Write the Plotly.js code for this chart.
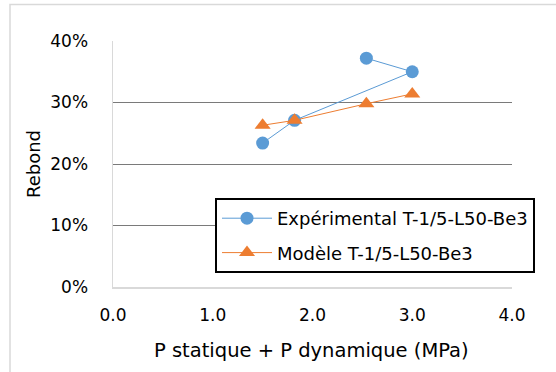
<!DOCTYPE html>
<html>
<head>
<meta charset="utf-8">
<script src="https://cdn.plot.ly/plotly-3.0.1.min.js"></script>
<style>
html,body{margin:0;padding:0;background:#fff;}
#chart{width:556px;height:372px;}
</style>
</head>
<body>
<div id="chart"></div>
<script>
// Data
const expX = [1.50, 1.82, 3.00, 2.54];
const expY = [0.234, 0.271, 0.350, 0.372];
const modX = [1.50, 1.82, 2.54, 3.00];
const modY = [0.263, 0.271, 0.298, 0.314];
const expName = "Expérimental T-1/5-L50-Be3";
const modName = "Modèle T-1/5-L50-Be3";
const xTitle = "P statique + P dynamique (MPa)";
const yTitle = "Rebond";

const FONT = "'DejaVu Sans', sans-serif";

const traces = [
  {
    x: expX, y: expY, name: expName, type: "scatter", mode: "lines+markers",
    line: {color: "#5B9BD5", width: 1},
    marker: {symbol: "circle", size: 13, color: "#5B9BD5"},
    legendgroup: "a"
  },
  {
    x: modX, y: modY, name: modName, type: "scatter", mode: "lines+markers",
    line: {color: "#ED7D31", width: 1},
    marker: {symbol: "triangle-up", size: 14, color: "#ED7D31"},
    legendgroup: "b"
  }
];

const L = 113, R = 512, T = 41, B = 287, W = 556, H = 372;
const px = v => (v - L) / (R - L);
const py = v => (B - v) / (B - T);

const layout = {
  width: W, height: H,
  margin: {l: L, r: W - R, t: T, b: H - B, pad: 0},
  paper_bgcolor: "#fff", plot_bgcolor: "#fff",
  font: {family: FONT, size: 17, color: "#000"},
  showlegend: true,
  legend: {
    x: px(215), y: py(198), xanchor: "left", yanchor: "top",
    bgcolor: "#fff", bordercolor: "#000", borderwidth: 2,
    font: {family: FONT, size: 18, color: "#000"},
    traceorder: "grouped", tracegroupgap: 8, itemwidth: 50
  },
  xaxis: {
    range: [0, 4], dtick: 1, tick0: 0, tickformat: ".1f",
    showgrid: false, zeroline: false,
    showline: true, linecolor: "#d9d9d9", linewidth: 1.5,
    ticks: "", ticklabelstandoff: 12,
    tickfont: {family: FONT, size: 17, color: "#000"},
    fixedrange: true
  },
  yaxis: {
    range: [0, 0.4], dtick: 0.1, tick0: 0, tickformat: ".0%",
    showgrid: true, gridcolor: "#7a7a7a", gridwidth: 1,
    zeroline: false,
    showline: true, linecolor: "#d9d9d9", linewidth: 1.5,
    ticks: "", ticklabelstandoff: 20,
    tickfont: {family: FONT, size: 17, color: "#000"},
    fixedrange: true
  },
  annotations: [
    {text: xTitle, xref: "paper", yref: "paper", x: px(311), y: py(350),
     xanchor: "center", yanchor: "middle", showarrow: false,
     font: {family: FONT, size: 19.5, color: "#000"}},
    {text: yTitle, xref: "paper", yref: "paper", x: px(33), y: py(164),
     xanchor: "center", yanchor: "middle", showarrow: false, textangle: -90,
     font: {family: FONT, size: 18, color: "#000"}}
  ],
  shapes: [
    {type: "rect", xref: "paper", yref: "paper",
     x0: px(10), x1: px(W + 20), y0: py(H + 20), y1: py(4.5),
     line: {color: "#d9d9d9", width: 1.5}, fillcolor: "rgba(0,0,0,0)", layer: "below"}
  ]
};

Plotly.newPlot("chart", traces, layout, {displayModeBar: false, staticPlot: true});
</script>
</body>
</html>
